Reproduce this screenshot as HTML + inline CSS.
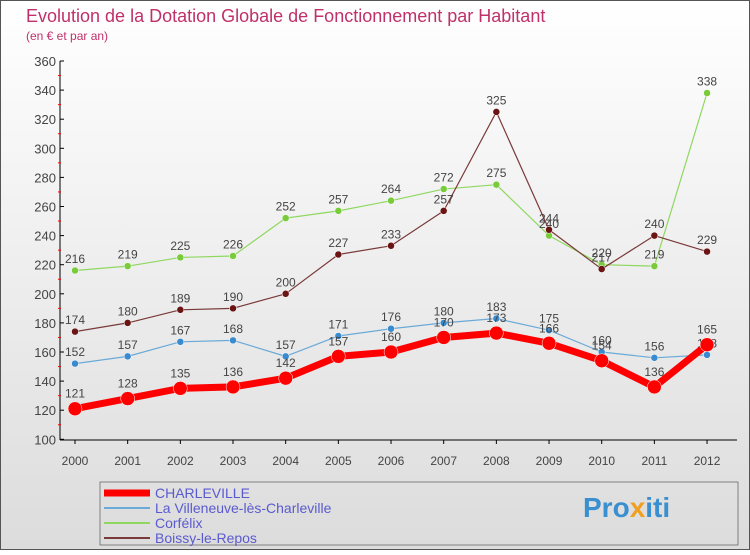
<!DOCTYPE html>
<html><head><meta charset="utf-8"><style>
body{margin:0;width:750px;height:550px;overflow:hidden;font-family:"Liberation Sans",sans-serif}
</style></head><body>
<svg width="750" height="550" xmlns="http://www.w3.org/2000/svg">
<defs><linearGradient id="bg" x1="0" y1="0" x2="0" y2="1"><stop offset="0" stop-color="#ffffff"/><stop offset="1" stop-color="#dcdcdc"/></linearGradient></defs>
<rect x="0.5" y="0.5" width="749" height="549" fill="url(#bg)" stroke="#555"/>
<text x="26" y="22" font-size="18" fill="#c0306a">Evolution de la Dotation Globale de Fonctionnement par Habitant</text>
<text x="26" y="40" font-size="12" fill="#c0306a">(en € et par an)</text>
<g id="axes"></g><g id="series"></g>
<rect x="100" y="482" width="638" height="63" fill="none" stroke="#444" stroke-width="0.6"/>
<g id="legend"></g>
<text x="583" y="517" font-size="28" font-weight="bold" fill="#3a8fd0">Pro<tspan fill="#f0a020">x</tspan>iti</text>
</svg>
<script>
const years=[2000,2001,2002,2003,2004,2005,2006,2007,2008,2009,2010,2011,2012];
const yTicks=[100,120,140,160,180,200,220,240,260,280,300,320,340,360];
const charleville=[121,128,135,136,142,157,160,170,173,166,154,136,165];
const villeneuve=[152,157,167,168,157,171,176,180,183,175,160,156,158];
const corfelix=[216,219,225,226,252,257,264,272,275,240,220,219,338];
const boissy=[174,180,189,190,200,227,233,257,325,244,217,240,229];
const NS='http://www.w3.org/2000/svg';
const X=i=>75+i*52.67, Y=v=>61+(360-v)*1.455;
function mk(t,a,p){const e=document.createElementNS(NS,t);for(const k in a)e.setAttribute(k,a[k]);p.appendChild(e);return e;}
const ax=document.getElementById('axes');
let l=mk('line',{x1:60,y1:61,x2:60,y2:440,stroke:'#000'},ax);

l=mk('line',{x1:60,y1:440,x2:737,y2:440,stroke:'#000'},ax);

yTicks.forEach(v=>{const y=Y(v);
 mk('line',{x1:60,y1:y,x2:64,y2:y,stroke:'#000'},ax);
 if(v<360){const m=mk('line',{x1:58,y1:Y(v+10),x2:61,y2:Y(v+10),stroke:'#f00'},ax);}
 const t=mk('text',{x:56,y:y+5,'text-anchor':'end','font-size':13,fill:'#444'},ax);t.textContent=v;
 });
years.forEach((yr,i)=>{const x=X(i);
 mk('line',{x1:x,y1:440,x2:x,y2:444,stroke:'#000'},ax);
 const t=mk('text',{x:x,y:465,'text-anchor':'middle','font-size':12,fill:'#444'},ax);t.textContent=yr;
 });
const sg=document.getElementById('series');
const series=[
 {n:'corfelix',d:corfelix,c:'#8fd860',f:'#7acb3c',w:1.2,r:3.5,label:'Corfélix'},
 {n:'boissy',d:boissy,c:'#7a3a3a',f:'#6a1414',w:1.2,r:3.5,label:'Boissy-le-Repos'},
 {n:'villeneuve',d:villeneuve,c:'#6aaad8',f:'#3a8ad0',w:1.2,r:3.5,label:'La Villeneuve-lès-Charleville'},
 {n:'charleville',d:charleville,c:'#ff0000',f:'#ff0000',w:7,r:7,label:'CHARLEVILLE'}];
series.forEach(s=>{const g=mk('g',{},sg);
 
 const p=mk('polyline',{points:s.d.map((v,i)=>X(i)+','+Y(v)).join(' '),fill:'none',stroke:s.c,'stroke-width':s.w,'stroke-linejoin':'round'},g);
 
 s.d.forEach((v,i)=>{const c=mk('circle',{cx:X(i),cy:Y(v),r:s.r,fill:s.f,stroke:'#fff','stroke-width':0.5},g);
  
  const t=mk('text',{x:X(i),y:Y(v)-s.r-4,'text-anchor':'middle','font-size':12,fill:'#444'},g);t.textContent=v;
  });});
const lg=document.getElementById('legend');
const order=[3,2,0,1];
order.forEach((k,j)=>{const s=series[k];const y=493+j*15;
 const l=mk('line',{x1:104,y1:y,x2:150,y2:y,stroke:s.c,'stroke-width':k==3?7:2},lg);
 
 const t=mk('text',{x:155,y:y+5,'font-size':14,fill:'#5a5ad0'},lg);t.textContent=s.label;
 });
</script>
</body></html>
